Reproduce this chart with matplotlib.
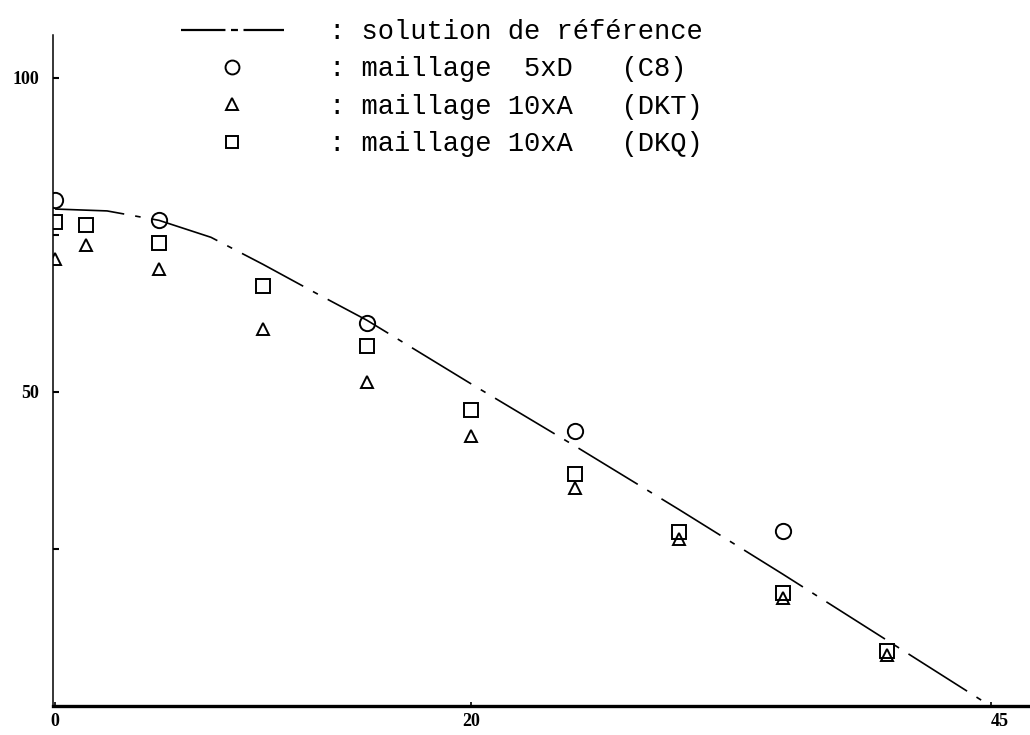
import matplotlib.pyplot as plt
import matplotlib.transforms as mtransforms
from matplotlib.lines import Line2D
from matplotlib.font_manager import FontProperties

plt.rcParams['lines.scale_dashes'] = False

# Solution de référence
x_ref = [0, 2.5, 5, 7.5, 10, 12.5, 15, 20, 25, 30, 35, 40, 45]
y_ref = [79.1, 78.8, 77.3, 74.6, 70.3, 65.8, 61.4, 51.3, 41.4, 31.3, 21.0, 10.5, 0]

# Maillage 5xD (C8)
x_c8 = [0, 5, 15, 25, 35]
y_c8 = [80.6, 77.4, 61.0, 43.8, 27.9]

# Maillage 10xA (DKT)
x_dkt = [0, 1.5, 5, 10, 15, 20, 25, 30, 35, 40]
y_dkt = [71.2, 73.4, 69.6, 60.0, 51.6, 43.0, 34.7, 26.6, 17.2, 8.1]

# Maillage 10xA (DKQ)
x_dkq = [0, 1.5, 5, 10, 15, 20, 25, 30, 35, 40]
y_dkq = [77.1, 76.6, 73.7, 66.9, 57.3, 47.1, 36.9, 27.7, 18.0, 8.8]

legend_labels = [': solution de référence',
                 ': maillage  5xD   (C8)',
                 ': maillage 10xA   (DKT)',
                 ': maillage 10xA   (DKQ)']

x_ticks = [0, 20, 45]
y_ticks = [50, 100]
y_minor = [25, 75]

fig = plt.figure(figsize=(10.3, 7.35), dpi=100)
ax = fig.add_axes([53 / 1030, 29 / 735, 977 / 1030, 671 / 735])
ax.set_xlim(-0.1, 46.9)
ax.set_ylim(0, 106.8)

# courbe de référence (trait mixte)
ax.plot(x_ref, y_ref, color='black', lw=1.2, dashes=[50, 8, 4, 8])

mk = dict(linestyle='none', color='black', mfc='none', mew=1.4)
ax.plot(x_c8, y_c8, marker='o', ms=11, **mk)
ax.plot(x_dkt, y_dkt, marker='^', ms=9, **mk)
ax.plot(x_dkq, y_dkq, marker='s', ms=9.5, **mk)

# axes
for s in ['top', 'right']:
    ax.spines[s].set_visible(False)
ax.spines['left'].set_linewidth(1.1)
ax.spines['bottom'].set_linewidth(2.4)

tick_font = FontProperties(family='Liberation Serif', weight='bold', size=13)
ax.set_xticks(x_ticks)
ax.set_xticklabels([str(v) for v in x_ticks], fontproperties=tick_font)
ax.set_yticks(y_ticks)
ax.set_yticklabels([str(v) for v in y_ticks], fontproperties=tick_font)
ax.set_yticks(y_minor, minor=True)
ax.tick_params(axis='y', which='both', direction='in', length=4, width=1.5, pad=10)
ax.tick_params(axis='x', direction='in', length=3, width=1.2, pad=5)

# le "45" est écrit un peu à droite de sa graduation
lab45 = ax.get_xticklabels()[-1]
lab45.set_transform(lab45.get_transform()
                    + mtransforms.ScaledTranslation(0.09, 0, fig.dpi_scale_trans))

# légende
handles = [
    Line2D([], [], color='black', lw=1.6, dashes=[32, 4, 5, 4]),
    Line2D([], [], marker='o', ms=10, **mk),
    Line2D([], [], marker='^', ms=8, **mk),
    Line2D([], [], marker='s', ms=9, **mk),
]
fig.legend(handles, legend_labels, loc='upper left',
           bbox_to_anchor=(181 / 1030, 1 - 19 / 735),
           frameon=False, prop=FontProperties(family='Liberation Mono', size=19.5),
           handlelength=3.8, handletextpad=1.65, labelspacing=0.42,
           borderpad=0, borderaxespad=0, numpoints=1)

fig.savefig('out.png', dpi=100)
